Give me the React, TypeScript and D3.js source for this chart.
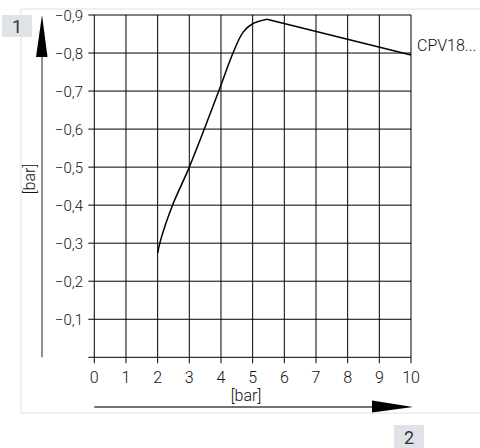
import React from "react";
import * as d3 from "d3";

const xTicks = [0, 1, 2, 3, 4, 5, 6, 7, 8, 9, 10];
const yTicks = [-0.1, -0.2, -0.3, -0.4, -0.5, -0.6, -0.7, -0.8, -0.9];
const curveX = [2.0, 2.1, 2.47, 3.0, 3.93, 4.38, 4.7, 5.0, 5.45, 10];
const curveY = [-0.274, -0.31, -0.4, -0.5, -0.7, -0.8, -0.855, -0.877, -0.889, -0.795];
const seriesName = "CPV18...";
const xTitle = "[bar]";
const yTitle = "[bar]";

const W = 480;
const H = 448;
const FONT = "Roboto, 'DejaVu Sans', sans-serif";

export default function App() {
  const x = d3.scaleLinear().domain([0, 10]).range([94.3, 411]);
  const y = d3.scaleLinear().domain([0, -0.9]).range([357.3, 15]);
  const pts: [number, number][] = curveX.map((v, i) => [v, curveY[i]]);
  const smooth = d3
    .line<[number, number]>()
    .x((d) => x(d[0]))
    .y((d) => y(d[1]))
    .curve(d3.curveCatmullRom.alpha(0.5));
  const straight = d3
    .line<[number, number]>()
    .x((d) => x(d[0]))
    .y((d) => y(d[1]));
  const fmt = (v: number) => "\u2212" + Math.abs(v).toFixed(1).replace(".", ",");
  const x0 = x(0), x1 = x(10), y0 = y(0), y1 = y(-0.9);
  const lastY = y(curveY[curveY.length - 1]);

  return (
    <svg width={W} height={H} style={{ position: "absolute", left: 0, top: 0 }} fontFamily={FONT}>
      <rect x={0} y={0} width={W} height={H} fill="#fff" />
      <rect x={21} y={9} width={W} height={404} fill="none" stroke="#e9ebee" strokeWidth={1.5} />
      {xTicks.map((t) => (
        <line key={"vx" + t} x1={x(t)} x2={x(t)} y1={y1} y2={y0 + 6} stroke="#000" strokeWidth={1} />
      ))}
      {yTicks.map((t) => (
        <line key={"hy" + t} x1={x0 - 6} x2={x1} y1={y(t)} y2={y(t)} stroke="#000" strokeWidth={1} />
      ))}
      <line x1={x0 - 6} x2={x1} y1={y0} y2={y0} stroke="#000" strokeWidth={1} />
      {yTicks.map((t) => (
        <text key={"ly" + t} x={83} y={y(t) + 5.5} textAnchor="end" fontSize={15} fontWeight={300} fill="#111">
          {fmt(t)}
        </text>
      ))}
      {xTicks.map((t) => (
        <text key={"lx" + t} x={x(t)} y={383} textAnchor="middle" fontSize={16} fontWeight={300} fill="#111">
          {t}
        </text>
      ))}
      <path d={smooth(pts.slice(0, pts.length - 1)) || ""} fill="none" stroke="#000" strokeWidth={1.5} />
      <path d={straight(pts.slice(pts.length - 2)) || ""} fill="none" stroke="#000" strokeWidth={1.5} />
      <text x={417} y={lastY - 4} fontSize={16} fontWeight={300} fill="#111">
        {seriesName}
      </text>
      <line x1={42} x2={42} y1={56} y2={y0} stroke="#555" strokeWidth={1.3} />
      <path d={`M42,${y1} L36,57 L47.5,57 Z`} fill="#000" />
      <text transform={`translate(35,179) rotate(-90)`} textAnchor="middle" fontSize={16} fontWeight={300} fill="#111">
        {yTitle}
      </text>
      <line x1={x0} x2={372} y1={407} y2={407} stroke="#444" strokeWidth={1.3} />
      <path d={`M372,400.5 L413,407 L372,412.5 Z`} fill="#000" />
      <text x={246} y={401} textAnchor="middle" fontSize={16} fontWeight={300} fill="#111">
        {xTitle}
      </text>
      <rect x={2} y={15} width={30} height={22} fill="#dfe3e7" />
      <text x={17} y={32.5} textAnchor="middle" fontSize={18} fill="#333">1</text>
      <rect x={394} y={425} width={30} height={23} fill="#dfe3e7" />
      <text x={409} y={443.5} textAnchor="middle" fontSize={18} fill="#333">2</text>
    </svg>
  );
}
